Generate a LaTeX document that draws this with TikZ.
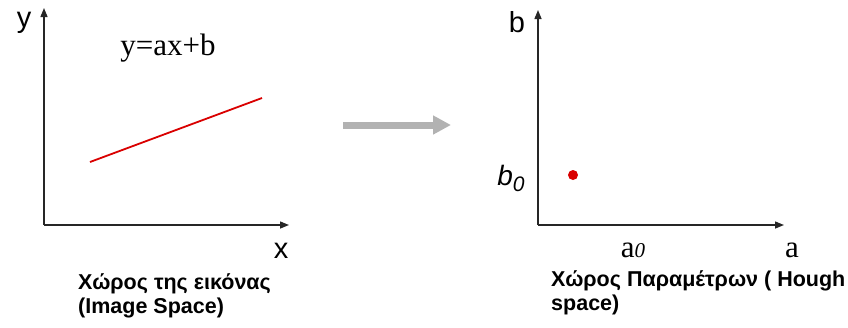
\documentclass[tikz,border=0pt]{standalone}
\usepackage{fontspec}
\setmainfont{Liberation Serif}
\setsansfont{Liberation Sans}
\usetikzlibrary{arrows.meta}
\begin{document}
\begin{tikzpicture}[x=1pt,y=-1pt,
  axis/.style={draw=black!85, line width=1.4pt, -{Triangle[length=9pt,width=7pt]}},
  sanslab/.style={font=\sffamily\fontsize{29}{29}\selectfont, inner sep=0pt},
  seriflab/.style={font=\rmfamily\fontsize{31}{31}\selectfont, inner sep=0pt},
  caption/.style={anchor=west, align=left, inner sep=0pt, font=\sffamily\bfseries\fontsize{21.5}{24}\selectfont},
  redline/.style={draw=red!85!black, line width=1.8pt},
  bigarrow/.style={draw=black!30, line width=7pt, -{Triangle[length=18pt,width=18pt]}}]
\useasboundingbox (0,0) rectangle (848,327);
% left plot
\coordinate (O1) at (44,225);
\coordinate (Y1) at (44,8);
\coordinate (X1) at (289,225);
\draw[axis] (O1) -- (Y1);
\draw[axis] (O1) -- (X1);
\node[sanslab] (ylab) at (24,23) {y};
\node[sanslab] (xlab) at (281,251) {x};
\node[seriflab] (eq) at (168,48) {y=ax+b};
\coordinate (L1a) at (90,162);
\coordinate (L1b) at (262,98);
\draw[redline] (L1a) -- (L1b);
\node[caption] (cap1) at (78,296) {Χώρος της εικόνας\\(Image Space)};
% arrow
\coordinate (A1) at (343,125);
\coordinate (A2) at (451,125);
\draw[bigarrow] (A1) -- (A2);
% right plot
\coordinate (O2) at (538,225);
\coordinate (Y2) at (538,10);
\coordinate (X2) at (784,225);
\draw[axis] (O2) -- (Y2);
\draw[axis] (O2) -- (X2);
\node[sanslab] (blab) at (517,22) {b};
\node[font=\sffamily\itshape\fontsize{28}{28}\selectfont, inner sep=0pt] (b0lab) at (511,178) {b\raisebox{-6pt}{\fontsize{21}{21}\selectfont 0}};
\node[circle, fill=red!85!black, minimum size=10pt, inner sep=0pt] (dot) at (573,175) {};
\node[seriflab] (a0lab) at (633,250) {a{\itshape\fontsize{21}{21}\selectfont 0}};
\node[seriflab] (alab) at (792,250) {a};
\node[caption] (cap2) at (551,293) {Χώρος Παραμέτρων ( Hough\\space)};
\end{tikzpicture}
\end{document}
